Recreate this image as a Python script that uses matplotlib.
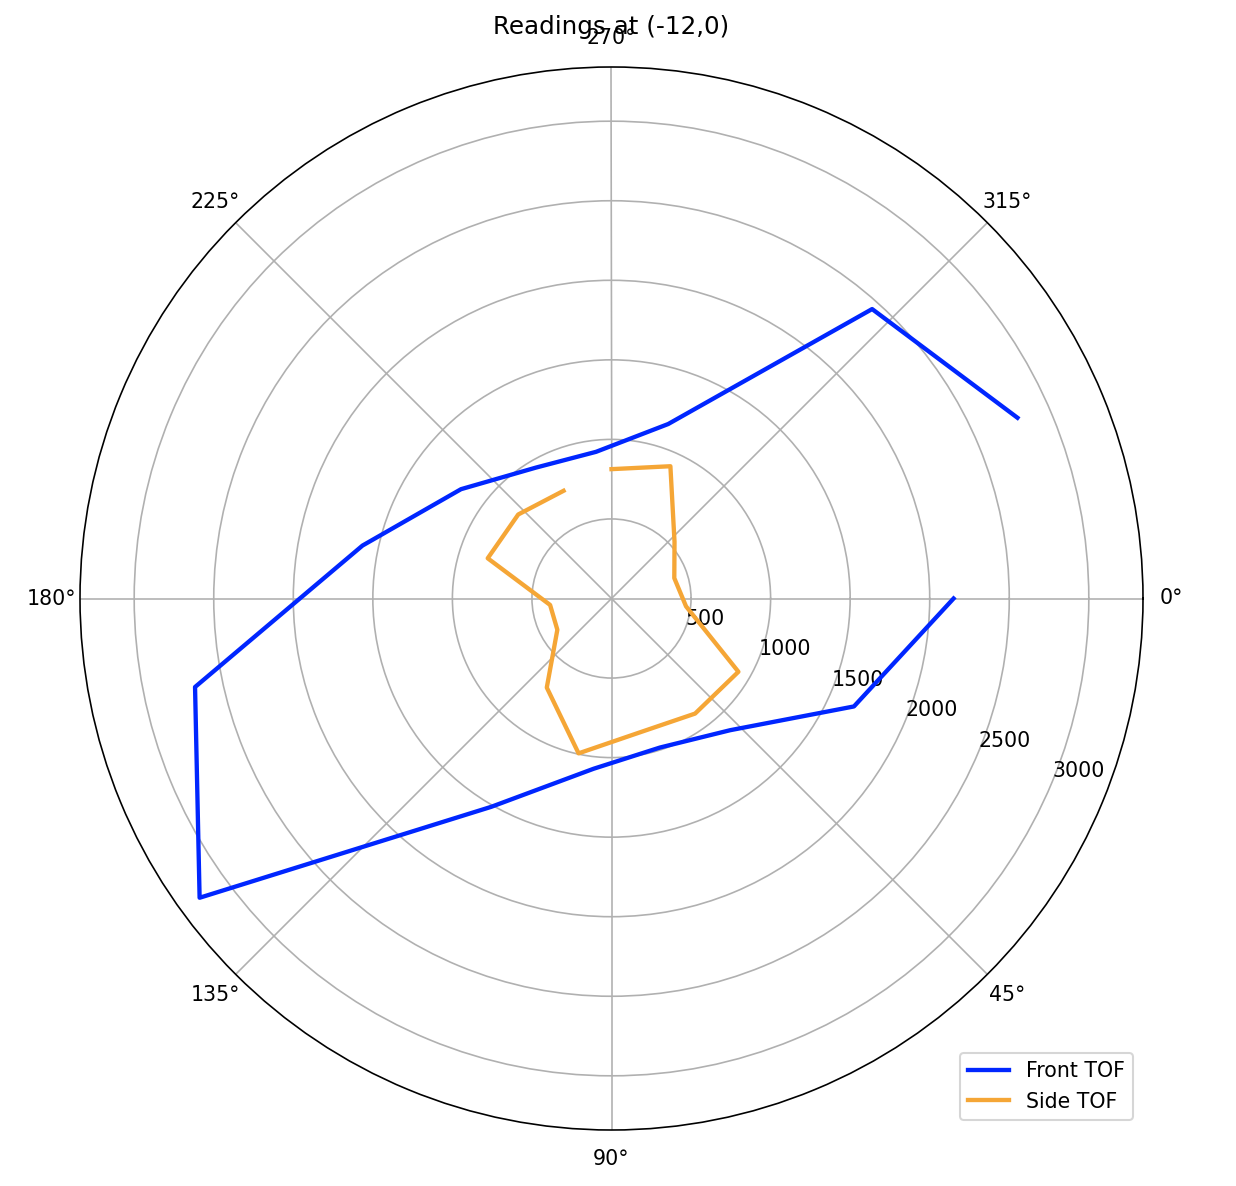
import numpy as np
import matplotlib
matplotlib.use('Agg')
import matplotlib.pyplot as plt

# scan angles (degrees) - front sensor, side sensor points 270 deg off
front_deg = [0, 24, 48, 72, 96, 120, 144, 168, 192, 216, 240, 264, 288, 312, 336]
front_tof = [2150, 1668, 1114, 985, 1076, 1512, 3200, 2676, 1600, 1169, 950, 927, 1153, 2448, 2793]

side_deg = [270, 294, 318, 342, 366, 390, 414, 438, 462, 486, 510, 534, 558, 582, 606]
side_tof = [813, 910, 533, 415, 471, 921, 894, 860, 995, 692, 393, 388, 818, 789, 741]

dpi = 148
fig = plt.figure(figsize=(1236 / dpi, 1186 / dpi), dpi=dpi)
ax = fig.add_axes([80 / 1236, 56 / 1186, 1063 / 1236, 1063 / 1186], projection='polar')
ax.set_theta_direction(-1)
ax.set_theta_offset(0)

ax.plot(np.deg2rad(front_deg), front_tof, color='#0026ff', lw=2.1, label='Front TOF')
ax.plot(np.deg2rad(side_deg), side_tof, color='#f5a636', lw=2.1, label='Side TOF')

ax.set_title('Readings at (-12,0)', y=1.019)
ax.legend(loc='lower right')

fig.savefig('out.png', dpi=dpi)
